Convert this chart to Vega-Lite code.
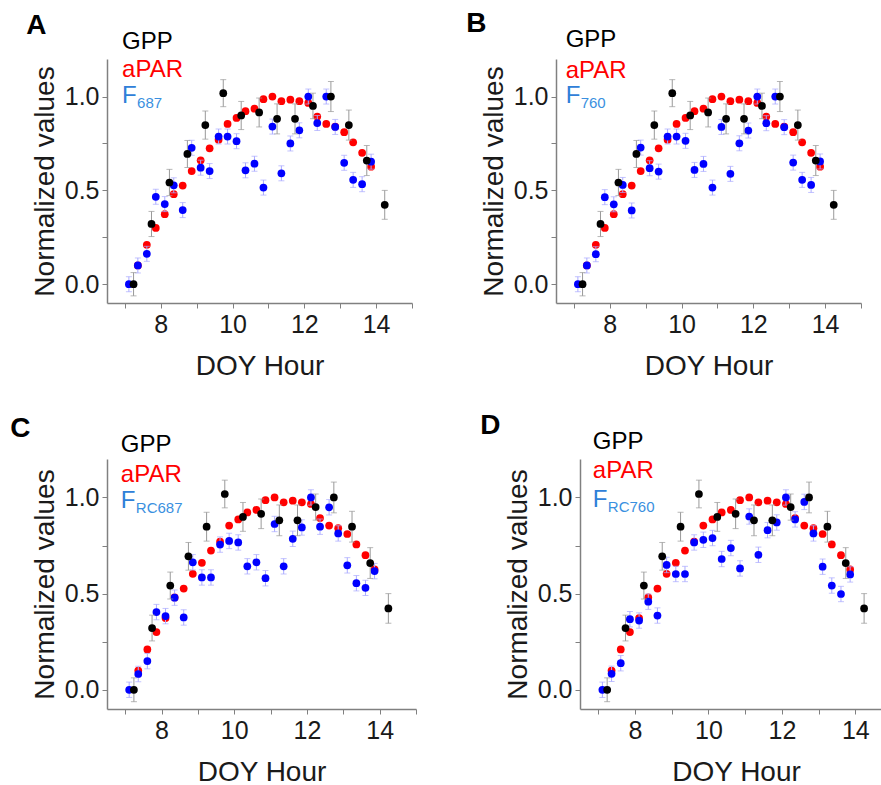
{
  "$schema": "https://vega.github.io/schema/vega-lite/v6.json",
  "background": "white",
  "padding": {"left": 10, "top": 10, "right": 0, "bottom": 0},
  "datasets": {
    "one": [{"k": 1}],
    "gpp": [
      {"t": 7.24, "v": 0, "e": 0.062}, {"t": 7.74, "v": 0.321, "e": 0.067}, {"t": 8.24, "v": 0.542, "e": 0.07},
      {"t": 8.74, "v": 0.694, "e": 0.072}, {"t": 9.24, "v": 0.848, "e": 0.075}, {"t": 9.74, "v": 1.018, "e": 0.072},
      {"t": 10.24, "v": 0.899, "e": 0.075}, {"t": 10.74, "v": 0.915, "e": 0.077}, {"t": 11.24, "v": 0.881, "e": 0.08},
      {"t": 11.74, "v": 0.881, "e": 0.08}, {"t": 12.24, "v": 0.95, "e": 0.068}, {"t": 12.74, "v": 1.0, "e": 0.08},
      {"t": 13.24, "v": 0.848, "e": 0.08}, {"t": 13.74, "v": 0.659, "e": 0.08}, {"t": 14.24, "v": 0.423, "e": 0.077}
    ],
    "apar": [
      {"t": 7.36, "v": 0.1}, {"t": 7.61, "v": 0.21}, {"t": 7.86, "v": 0.3}, {"t": 8.11, "v": 0.373},
      {"t": 8.36, "v": 0.48}, {"t": 8.61, "v": 0.526}, {"t": 8.86, "v": 0.603}, {"t": 9.11, "v": 0.66},
      {"t": 9.36, "v": 0.724}, {"t": 9.61, "v": 0.77}, {"t": 9.86, "v": 0.854}, {"t": 10.11, "v": 0.886},
      {"t": 10.36, "v": 0.922}, {"t": 10.61, "v": 0.935}, {"t": 10.86, "v": 0.986}, {"t": 11.11, "v": 1.0},
      {"t": 11.36, "v": 0.975}, {"t": 11.61, "v": 0.983}, {"t": 11.86, "v": 0.975}, {"t": 12.11, "v": 0.966},
      {"t": 12.36, "v": 0.893}, {"t": 12.61, "v": 0.854}, {"t": 12.86, "v": 0.84}, {"t": 13.11, "v": 0.81},
      {"t": 13.36, "v": 0.756}, {"t": 13.61, "v": 0.7}, {"t": 13.86, "v": 0.626}
    ],
    "fA": [
      {"t": 7.11, "v": 0, "e": 0.04}, {"t": 7.36, "v": 0.1, "e": 0.04}, {"t": 7.61, "v": 0.162, "e": 0.04}, {"t": 7.86, "v": 0.466, "e": 0.04},
      {"t": 8.11, "v": 0.427, "e": 0.04}, {"t": 8.36, "v": 0.527, "e": 0.04}, {"t": 8.61, "v": 0.395, "e": 0.04}, {"t": 8.86, "v": 0.727, "e": 0.04},
      {"t": 9.11, "v": 0.621, "e": 0.04}, {"t": 9.36, "v": 0.603, "e": 0.04}, {"t": 9.61, "v": 0.787, "e": 0.04}, {"t": 9.86, "v": 0.787, "e": 0.04},
      {"t": 10.11, "v": 0.762, "e": 0.04}, {"t": 10.36, "v": 0.607, "e": 0.04}, {"t": 10.61, "v": 0.642, "e": 0.04}, {"t": 10.86, "v": 0.515, "e": 0.04},
      {"t": 11.11, "v": 0.84, "e": 0.04}, {"t": 11.36, "v": 0.591, "e": 0.04}, {"t": 11.61, "v": 0.75, "e": 0.04}, {"t": 11.86, "v": 0.82, "e": 0.04},
      {"t": 12.11, "v": 1.0, "e": 0.04}, {"t": 12.36, "v": 0.859, "e": 0.04}, {"t": 12.61, "v": 1.0, "e": 0.04}, {"t": 12.86, "v": 0.838, "e": 0.04},
      {"t": 13.11, "v": 0.647, "e": 0.04}, {"t": 13.36, "v": 0.556, "e": 0.04}, {"t": 13.61, "v": 0.533, "e": 0.04}, {"t": 13.86, "v": 0.653, "e": 0.04}
    ],
    "fB": [
      {"t": 7.11, "v": 0, "e": 0.04}, {"t": 7.36, "v": 0.1, "e": 0.04}, {"t": 7.61, "v": 0.16, "e": 0.04}, {"t": 7.86, "v": 0.464, "e": 0.04},
      {"t": 8.11, "v": 0.426, "e": 0.04}, {"t": 8.36, "v": 0.529, "e": 0.04}, {"t": 8.61, "v": 0.393, "e": 0.04}, {"t": 8.86, "v": 0.728, "e": 0.04},
      {"t": 9.11, "v": 0.618, "e": 0.04}, {"t": 9.36, "v": 0.6, "e": 0.04}, {"t": 9.61, "v": 0.787, "e": 0.04}, {"t": 9.86, "v": 0.787, "e": 0.04},
      {"t": 10.11, "v": 0.764, "e": 0.04}, {"t": 10.36, "v": 0.609, "e": 0.04}, {"t": 10.61, "v": 0.641, "e": 0.04}, {"t": 10.86, "v": 0.515, "e": 0.04},
      {"t": 11.11, "v": 0.838, "e": 0.04}, {"t": 11.36, "v": 0.588, "e": 0.04}, {"t": 11.61, "v": 0.751, "e": 0.04}, {"t": 11.86, "v": 0.819, "e": 0.04},
      {"t": 12.11, "v": 1.0, "e": 0.04}, {"t": 12.36, "v": 0.858, "e": 0.04}, {"t": 12.61, "v": 1.0, "e": 0.04}, {"t": 12.86, "v": 0.837, "e": 0.04},
      {"t": 13.11, "v": 0.648, "e": 0.04}, {"t": 13.36, "v": 0.556, "e": 0.04}, {"t": 13.61, "v": 0.529, "e": 0.04}, {"t": 13.86, "v": 0.654, "e": 0.04}
    ],
    "fC": [
      {"t": 7.11, "v": 0, "e": 0.04}, {"t": 7.36, "v": 0.082, "e": 0.04}, {"t": 7.61, "v": 0.149, "e": 0.04}, {"t": 7.86, "v": 0.404, "e": 0.04},
      {"t": 8.11, "v": 0.383, "e": 0.04}, {"t": 8.36, "v": 0.479, "e": 0.04}, {"t": 8.61, "v": 0.376, "e": 0.04}, {"t": 8.86, "v": 0.663, "e": 0.04},
      {"t": 9.11, "v": 0.584, "e": 0.04}, {"t": 9.36, "v": 0.584, "e": 0.04}, {"t": 9.61, "v": 0.755, "e": 0.04}, {"t": 9.86, "v": 0.774, "e": 0.04},
      {"t": 10.11, "v": 0.766, "e": 0.04}, {"t": 10.36, "v": 0.642, "e": 0.04}, {"t": 10.61, "v": 0.663, "e": 0.04}, {"t": 10.86, "v": 0.58, "e": 0.04},
      {"t": 11.11, "v": 0.862, "e": 0.04}, {"t": 11.36, "v": 0.642, "e": 0.04}, {"t": 11.61, "v": 0.785, "e": 0.04}, {"t": 11.86, "v": 0.844, "e": 0.04},
      {"t": 12.11, "v": 1.0, "e": 0.04}, {"t": 12.36, "v": 0.848, "e": 0.04}, {"t": 12.61, "v": 0.949, "e": 0.04}, {"t": 12.86, "v": 0.813, "e": 0.04},
      {"t": 13.11, "v": 0.647, "e": 0.04}, {"t": 13.36, "v": 0.554, "e": 0.04}, {"t": 13.61, "v": 0.53, "e": 0.04}, {"t": 13.86, "v": 0.617, "e": 0.04}
    ],
    "fD": [
      {"t": 7.11, "v": 0, "e": 0.04}, {"t": 7.36, "v": 0.083, "e": 0.04}, {"t": 7.61, "v": 0.138, "e": 0.04}, {"t": 7.86, "v": 0.367, "e": 0.04},
      {"t": 8.11, "v": 0.36, "e": 0.04}, {"t": 8.36, "v": 0.458, "e": 0.04}, {"t": 8.61, "v": 0.386, "e": 0.04}, {"t": 8.86, "v": 0.649, "e": 0.04},
      {"t": 9.11, "v": 0.602, "e": 0.04}, {"t": 9.36, "v": 0.602, "e": 0.04}, {"t": 9.61, "v": 0.766, "e": 0.04}, {"t": 9.86, "v": 0.78, "e": 0.04},
      {"t": 10.11, "v": 0.789, "e": 0.04}, {"t": 10.36, "v": 0.68, "e": 0.04}, {"t": 10.61, "v": 0.737, "e": 0.04}, {"t": 10.86, "v": 0.631, "e": 0.04},
      {"t": 11.11, "v": 0.901, "e": 0.04}, {"t": 11.36, "v": 0.702, "e": 0.04}, {"t": 11.61, "v": 0.83, "e": 0.04}, {"t": 11.86, "v": 0.87, "e": 0.04},
      {"t": 12.11, "v": 1.0, "e": 0.04}, {"t": 12.36, "v": 0.886, "e": 0.04}, {"t": 12.61, "v": 0.977, "e": 0.04}, {"t": 12.86, "v": 0.813, "e": 0.04},
      {"t": 13.11, "v": 0.64, "e": 0.04}, {"t": 13.36, "v": 0.542, "e": 0.04}, {"t": 13.61, "v": 0.498, "e": 0.04}, {"t": 13.86, "v": 0.6, "e": 0.04}
    ]
  },
  "config": {
    "view": {"stroke": null},
    "font": "Liberation Sans",
    "axis": {
      "grid": false, "domainColor": "#808080", "domainWidth": 1.5, "tickColor": "#808080", "tickSize": 5, "tickWidth": 1,
      "labelFont": "Liberation Sans", "labelFontSize": 25, "labelColor": "#1a1a1a", "labelPadding": 3,
      "titleFont": "Liberation Sans", "titleFontSize": 28, "titleFontWeight": "normal", "titleColor": "#1a1a1a"
    },
    "axisY": {"titlePadding": 5},
    "axisX": {"titlePadding": 15, "labelPadding": 4},
    "title": {"font": "Liberation Sans", "fontSize": 28, "fontWeight": "bold", "color": "#000000", "anchor": "start", "offset": -10}
  },
  "spacing": 32,
  "vconcat": [
    {
      "spacing": 144,
      "bounds": "flush",
      "hconcat": [
        {
          "width": 305, "height": 244,
          "title": {"text": "A", "dx": -5},
          "layer": [
            {"data": {"name": "apar"}, "mark": {"type": "point", "filled": true, "size": 60, "color": "#ff0000", "opacity": 1},
             "encoding": {
               "x": {"field": "t", "type": "quantitative", "title": "DOY Hour", "scale": {"domain": [6.5, 15], "nice": false, "zero": false},
                     "axis": {"values": [7, 8, 9, 10, 11, 12, 13, 14, 15], "format": "d", "labelExpr": "datum.value % 2 == 0 ? datum.label : ''"}},
               "y": {"field": "v", "type": "quantitative", "title": "Normalized values", "scale": {"domain": [-0.1, 1.2], "nice": false, "zero": false},
                     "axis": {"values": [0, 0.25, 0.5, 0.75, 1], "format": ".1f", "labelExpr": "datum.value == 0.25 || datum.value == 0.75 ? '' : datum.label"}}}},
            {"data": {"name": "fA"}, "mark": {"type": "errorbar", "color": "#aaaaff", "thickness": 1, "ticks": {"size": 6}},
             "encoding": {
               "x": {"field": "t", "type": "quantitative", "title": "DOY Hour", "axis": {"values": [7, 8, 9, 10, 11, 12, 13, 14, 15], "format": "d", "labelExpr": "datum.value % 2 == 0 ? datum.label : ''"}},
               "y": {"field": "v", "type": "quantitative", "title": "Normalized values", "axis": {"values": [0, 0.25, 0.5, 0.75, 1], "format": ".1f", "labelExpr": "datum.value == 0.25 || datum.value == 0.75 ? '' : datum.label"}},
               "yError": {"field": "e"}}},
            {"data": {"name": "fA"}, "mark": {"type": "point", "filled": true, "size": 60, "color": "#0000ff", "opacity": 1},
             "encoding": {
               "x": {"field": "t", "type": "quantitative", "title": "DOY Hour", "axis": {"values": [7, 8, 9, 10, 11, 12, 13, 14, 15], "format": "d", "labelExpr": "datum.value % 2 == 0 ? datum.label : ''"}},
               "y": {"field": "v", "type": "quantitative", "title": "Normalized values", "axis": {"values": [0, 0.25, 0.5, 0.75, 1], "format": ".1f", "labelExpr": "datum.value == 0.25 || datum.value == 0.75 ? '' : datum.label"}}}},
            {"data": {"name": "gpp"}, "mark": {"type": "errorbar", "color": "#999999", "thickness": 1, "ticks": {"size": 6}},
             "encoding": {
               "x": {"field": "t", "type": "quantitative", "title": "DOY Hour", "axis": {"values": [7, 8, 9, 10, 11, 12, 13, 14, 15], "format": "d", "labelExpr": "datum.value % 2 == 0 ? datum.label : ''"}},
               "y": {"field": "v", "type": "quantitative", "title": "Normalized values", "axis": {"values": [0, 0.25, 0.5, 0.75, 1], "format": ".1f", "labelExpr": "datum.value == 0.25 || datum.value == 0.75 ? '' : datum.label"}},
               "yError": {"field": "e"}}},
            {"data": {"name": "gpp"}, "mark": {"type": "point", "filled": true, "size": 60, "color": "#000000", "opacity": 1},
             "encoding": {
               "x": {"field": "t", "type": "quantitative", "title": "DOY Hour", "axis": {"values": [7, 8, 9, 10, 11, 12, 13, 14, 15], "format": "d", "labelExpr": "datum.value % 2 == 0 ? datum.label : ''"}},
               "y": {"field": "v", "type": "quantitative", "title": "Normalized values", "axis": {"values": [0, 0.25, 0.5, 0.75, 1], "format": ".1f", "labelExpr": "datum.value == 0.25 || datum.value == 0.75 ? '' : datum.label"}}}},
            {"data": {"name": "one"}, "mark": {"type": "text", "align": "left", "baseline": "alphabetic", "fontSize": 24, "color": "#000000", "text": "GPP"},
             "encoding": {
               "x": {"datum": 6.92, "type": "quantitative", "title": "DOY Hour", "axis": {"values": [7, 8, 9, 10, 11, 12, 13, 14, 15], "format": "d", "labelExpr": "datum.value % 2 == 0 ? datum.label : ''"}},
               "y": {"datum": 1.254, "type": "quantitative", "title": "Normalized values", "axis": {"values": [0, 0.25, 0.5, 0.75, 1], "format": ".1f", "labelExpr": "datum.value == 0.25 || datum.value == 0.75 ? '' : datum.label"}}}},
            {"data": {"name": "one"}, "mark": {"type": "text", "align": "left", "baseline": "alphabetic", "fontSize": 24, "color": "#ff0000", "text": "aPAR"},
             "encoding": {
               "x": {"datum": 6.92, "type": "quantitative", "title": "DOY Hour", "axis": {"values": [7, 8, 9, 10, 11, 12, 13, 14, 15], "format": "d", "labelExpr": "datum.value % 2 == 0 ? datum.label : ''"}},
               "y": {"datum": 1.106, "type": "quantitative", "title": "Normalized values", "axis": {"values": [0, 0.25, 0.5, 0.75, 1], "format": ".1f", "labelExpr": "datum.value == 0.25 || datum.value == 0.75 ? '' : datum.label"}}}},
            {"data": {"name": "one"}, "mark": {"type": "text", "align": "left", "baseline": "alphabetic", "fontSize": 24, "color": "#2f80d8", "text": "F"},
             "encoding": {
               "x": {"datum": 6.92, "type": "quantitative", "title": "DOY Hour", "axis": {"values": [7, 8, 9, 10, 11, 12, 13, 14, 15], "format": "d", "labelExpr": "datum.value % 2 == 0 ? datum.label : ''"}},
               "y": {"datum": 0.963, "type": "quantitative", "title": "Normalized values", "axis": {"values": [0, 0.25, 0.5, 0.75, 1], "format": ".1f", "labelExpr": "datum.value == 0.25 || datum.value == 0.75 ? '' : datum.label"}}}},
            {"data": {"name": "one"}, "mark": {"type": "text", "align": "left", "baseline": "alphabetic", "fontSize": 15, "color": "#3a90e0", "dx": 15, "dy": 5, "text": "687"},
             "encoding": {
               "x": {"datum": 6.92, "type": "quantitative", "title": "DOY Hour", "axis": {"values": [7, 8, 9, 10, 11, 12, 13, 14, 15], "format": "d", "labelExpr": "datum.value % 2 == 0 ? datum.label : ''"}},
               "y": {"datum": 0.963, "type": "quantitative", "title": "Normalized values", "axis": {"values": [0, 0.25, 0.5, 0.75, 1], "format": ".1f", "labelExpr": "datum.value == 0.25 || datum.value == 0.75 ? '' : datum.label"}}}}
          ]
        },
        {
          "width": 305, "height": 244,
          "title": {"text": "B", "dx": -14},
          "layer": [
            {"data": {"name": "apar"}, "mark": {"type": "point", "filled": true, "size": 60, "color": "#ff0000", "opacity": 1},
             "encoding": {
               "x": {"field": "t", "type": "quantitative", "title": "DOY Hour", "scale": {"domain": [6.5, 15], "nice": false, "zero": false},
                     "axis": {"values": [7, 8, 9, 10, 11, 12, 13, 14, 15], "format": "d", "labelExpr": "datum.value % 2 == 0 ? datum.label : ''"}},
               "y": {"field": "v", "type": "quantitative", "title": "Normalized values", "scale": {"domain": [-0.1, 1.2], "nice": false, "zero": false},
                     "axis": {"values": [0, 0.25, 0.5, 0.75, 1], "format": ".1f", "labelExpr": "datum.value == 0.25 || datum.value == 0.75 ? '' : datum.label"}}}},
            {"data": {"name": "fB"}, "mark": {"type": "errorbar", "color": "#aaaaff", "thickness": 1, "ticks": {"size": 6}},
             "encoding": {
               "x": {"field": "t", "type": "quantitative", "title": "DOY Hour", "axis": {"values": [7, 8, 9, 10, 11, 12, 13, 14, 15], "format": "d", "labelExpr": "datum.value % 2 == 0 ? datum.label : ''"}},
               "y": {"field": "v", "type": "quantitative", "title": "Normalized values", "axis": {"values": [0, 0.25, 0.5, 0.75, 1], "format": ".1f", "labelExpr": "datum.value == 0.25 || datum.value == 0.75 ? '' : datum.label"}},
               "yError": {"field": "e"}}},
            {"data": {"name": "fB"}, "mark": {"type": "point", "filled": true, "size": 60, "color": "#0000ff", "opacity": 1},
             "encoding": {
               "x": {"field": "t", "type": "quantitative", "title": "DOY Hour", "axis": {"values": [7, 8, 9, 10, 11, 12, 13, 14, 15], "format": "d", "labelExpr": "datum.value % 2 == 0 ? datum.label : ''"}},
               "y": {"field": "v", "type": "quantitative", "title": "Normalized values", "axis": {"values": [0, 0.25, 0.5, 0.75, 1], "format": ".1f", "labelExpr": "datum.value == 0.25 || datum.value == 0.75 ? '' : datum.label"}}}},
            {"data": {"name": "gpp"}, "mark": {"type": "errorbar", "color": "#999999", "thickness": 1, "ticks": {"size": 6}},
             "encoding": {
               "x": {"field": "t", "type": "quantitative", "title": "DOY Hour", "axis": {"values": [7, 8, 9, 10, 11, 12, 13, 14, 15], "format": "d", "labelExpr": "datum.value % 2 == 0 ? datum.label : ''"}},
               "y": {"field": "v", "type": "quantitative", "title": "Normalized values", "axis": {"values": [0, 0.25, 0.5, 0.75, 1], "format": ".1f", "labelExpr": "datum.value == 0.25 || datum.value == 0.75 ? '' : datum.label"}},
               "yError": {"field": "e"}}},
            {"data": {"name": "gpp"}, "mark": {"type": "point", "filled": true, "size": 60, "color": "#000000", "opacity": 1},
             "encoding": {
               "x": {"field": "t", "type": "quantitative", "title": "DOY Hour", "axis": {"values": [7, 8, 9, 10, 11, 12, 13, 14, 15], "format": "d", "labelExpr": "datum.value % 2 == 0 ? datum.label : ''"}},
               "y": {"field": "v", "type": "quantitative", "title": "Normalized values", "axis": {"values": [0, 0.25, 0.5, 0.75, 1], "format": ".1f", "labelExpr": "datum.value == 0.25 || datum.value == 0.75 ? '' : datum.label"}}}},
            {"data": {"name": "one"}, "mark": {"type": "text", "align": "left", "baseline": "alphabetic", "fontSize": 24, "color": "#000000", "text": "GPP"},
             "encoding": {
               "x": {"datum": 6.77, "type": "quantitative", "title": "DOY Hour", "axis": {"values": [7, 8, 9, 10, 11, 12, 13, 14, 15], "format": "d", "labelExpr": "datum.value % 2 == 0 ? datum.label : ''"}},
               "y": {"datum": 1.262, "type": "quantitative", "title": "Normalized values", "axis": {"values": [0, 0.25, 0.5, 0.75, 1], "format": ".1f", "labelExpr": "datum.value == 0.25 || datum.value == 0.75 ? '' : datum.label"}}}},
            {"data": {"name": "one"}, "mark": {"type": "text", "align": "left", "baseline": "alphabetic", "fontSize": 24, "color": "#ff0000", "text": "aPAR"},
             "encoding": {
               "x": {"datum": 6.77, "type": "quantitative", "title": "DOY Hour", "axis": {"values": [7, 8, 9, 10, 11, 12, 13, 14, 15], "format": "d", "labelExpr": "datum.value % 2 == 0 ? datum.label : ''"}},
               "y": {"datum": 1.1, "type": "quantitative", "title": "Normalized values", "axis": {"values": [0, 0.25, 0.5, 0.75, 1], "format": ".1f", "labelExpr": "datum.value == 0.25 || datum.value == 0.75 ? '' : datum.label"}}}},
            {"data": {"name": "one"}, "mark": {"type": "text", "align": "left", "baseline": "alphabetic", "fontSize": 24, "color": "#2f80d8", "text": "F"},
             "encoding": {
               "x": {"datum": 6.77, "type": "quantitative", "title": "DOY Hour", "axis": {"values": [7, 8, 9, 10, 11, 12, 13, 14, 15], "format": "d", "labelExpr": "datum.value % 2 == 0 ? datum.label : ''"}},
               "y": {"datum": 0.963, "type": "quantitative", "title": "Normalized values", "axis": {"values": [0, 0.25, 0.5, 0.75, 1], "format": ".1f", "labelExpr": "datum.value == 0.25 || datum.value == 0.75 ? '' : datum.label"}}}},
            {"data": {"name": "one"}, "mark": {"type": "text", "align": "left", "baseline": "alphabetic", "fontSize": 15, "color": "#3a90e0", "dx": 15, "dy": 5, "text": "760"},
             "encoding": {
               "x": {"datum": 6.77, "type": "quantitative", "title": "DOY Hour", "axis": {"values": [7, 8, 9, 10, 11, 12, 13, 14, 15], "format": "d", "labelExpr": "datum.value % 2 == 0 ? datum.label : ''"}},
               "y": {"datum": 0.963, "type": "quantitative", "title": "Normalized values", "axis": {"values": [0, 0.25, 0.5, 0.75, 1], "format": ".1f", "labelExpr": "datum.value == 0.25 || datum.value == 0.75 ? '' : datum.label"}}}}
          ]
        }
      ]
    },
    {
      "spacing": 164,
      "bounds": "flush",
      "hconcat": [
        {
          "width": 309, "height": 250,
          "title": {"text": "C", "dx": -21},
          "layer": [
            {"data": {"name": "apar"}, "mark": {"type": "point", "filled": true, "size": 60, "color": "#ff0000", "opacity": 1},
             "encoding": {
               "x": {"field": "t", "type": "quantitative", "title": "DOY Hour", "scale": {"domain": [6.5, 15], "nice": false, "zero": false},
                     "axis": {"values": [7, 8, 9, 10, 11, 12, 13, 14, 15], "format": "d", "labelExpr": "datum.value % 2 == 0 ? datum.label : ''"}},
               "y": {"field": "v", "type": "quantitative", "title": "Normalized values", "scale": {"domain": [-0.1, 1.2], "nice": false, "zero": false},
                     "axis": {"values": [0, 0.25, 0.5, 0.75, 1], "format": ".1f", "labelExpr": "datum.value == 0.25 || datum.value == 0.75 ? '' : datum.label"}}}},
            {"data": {"name": "fC"}, "mark": {"type": "errorbar", "color": "#aaaaff", "thickness": 1, "ticks": {"size": 6}},
             "encoding": {
               "x": {"field": "t", "type": "quantitative", "title": "DOY Hour", "axis": {"values": [7, 8, 9, 10, 11, 12, 13, 14, 15], "format": "d", "labelExpr": "datum.value % 2 == 0 ? datum.label : ''"}},
               "y": {"field": "v", "type": "quantitative", "title": "Normalized values", "axis": {"values": [0, 0.25, 0.5, 0.75, 1], "format": ".1f", "labelExpr": "datum.value == 0.25 || datum.value == 0.75 ? '' : datum.label"}},
               "yError": {"field": "e"}}},
            {"data": {"name": "fC"}, "mark": {"type": "point", "filled": true, "size": 60, "color": "#0000ff", "opacity": 1},
             "encoding": {
               "x": {"field": "t", "type": "quantitative", "title": "DOY Hour", "axis": {"values": [7, 8, 9, 10, 11, 12, 13, 14, 15], "format": "d", "labelExpr": "datum.value % 2 == 0 ? datum.label : ''"}},
               "y": {"field": "v", "type": "quantitative", "title": "Normalized values", "axis": {"values": [0, 0.25, 0.5, 0.75, 1], "format": ".1f", "labelExpr": "datum.value == 0.25 || datum.value == 0.75 ? '' : datum.label"}}}},
            {"data": {"name": "gpp"}, "mark": {"type": "errorbar", "color": "#999999", "thickness": 1, "ticks": {"size": 6}},
             "encoding": {
               "x": {"field": "t", "type": "quantitative", "title": "DOY Hour", "axis": {"values": [7, 8, 9, 10, 11, 12, 13, 14, 15], "format": "d", "labelExpr": "datum.value % 2 == 0 ? datum.label : ''"}},
               "y": {"field": "v", "type": "quantitative", "title": "Normalized values", "axis": {"values": [0, 0.25, 0.5, 0.75, 1], "format": ".1f", "labelExpr": "datum.value == 0.25 || datum.value == 0.75 ? '' : datum.label"}},
               "yError": {"field": "e"}}},
            {"data": {"name": "gpp"}, "mark": {"type": "point", "filled": true, "size": 60, "color": "#000000", "opacity": 1},
             "encoding": {
               "x": {"field": "t", "type": "quantitative", "title": "DOY Hour", "axis": {"values": [7, 8, 9, 10, 11, 12, 13, 14, 15], "format": "d", "labelExpr": "datum.value % 2 == 0 ? datum.label : ''"}},
               "y": {"field": "v", "type": "quantitative", "title": "Normalized values", "axis": {"values": [0, 0.25, 0.5, 0.75, 1], "format": ".1f", "labelExpr": "datum.value == 0.25 || datum.value == 0.75 ? '' : datum.label"}}}},
            {"data": {"name": "one"}, "mark": {"type": "text", "align": "left", "baseline": "alphabetic", "fontSize": 24, "color": "#000000", "text": "GPP"},
             "encoding": {
               "x": {"datum": 6.88, "type": "quantitative", "title": "DOY Hour", "axis": {"values": [7, 8, 9, 10, 11, 12, 13, 14, 15], "format": "d", "labelExpr": "datum.value % 2 == 0 ? datum.label : ''"}},
               "y": {"datum": 1.234, "type": "quantitative", "title": "Normalized values", "axis": {"values": [0, 0.25, 0.5, 0.75, 1], "format": ".1f", "labelExpr": "datum.value == 0.25 || datum.value == 0.75 ? '' : datum.label"}}}},
            {"data": {"name": "one"}, "mark": {"type": "text", "align": "left", "baseline": "alphabetic", "fontSize": 24, "color": "#ff0000", "text": "aPAR"},
             "encoding": {
               "x": {"datum": 6.88, "type": "quantitative", "title": "DOY Hour", "axis": {"values": [7, 8, 9, 10, 11, 12, 13, 14, 15], "format": "d", "labelExpr": "datum.value % 2 == 0 ? datum.label : ''"}},
               "y": {"datum": 1.08, "type": "quantitative", "title": "Normalized values", "axis": {"values": [0, 0.25, 0.5, 0.75, 1], "format": ".1f", "labelExpr": "datum.value == 0.25 || datum.value == 0.75 ? '' : datum.label"}}}},
            {"data": {"name": "one"}, "mark": {"type": "text", "align": "left", "baseline": "alphabetic", "fontSize": 24, "color": "#2f80d8", "text": "F"},
             "encoding": {
               "x": {"datum": 6.88, "type": "quantitative", "title": "DOY Hour", "axis": {"values": [7, 8, 9, 10, 11, 12, 13, 14, 15], "format": "d", "labelExpr": "datum.value % 2 == 0 ? datum.label : ''"}},
               "y": {"datum": 0.946, "type": "quantitative", "title": "Normalized values", "axis": {"values": [0, 0.25, 0.5, 0.75, 1], "format": ".1f", "labelExpr": "datum.value == 0.25 || datum.value == 0.75 ? '' : datum.label"}}}},
            {"data": {"name": "one"}, "mark": {"type": "text", "align": "left", "baseline": "alphabetic", "fontSize": 15, "color": "#3a90e0", "dx": 15, "dy": 5, "text": "RC687"},
             "encoding": {
               "x": {"datum": 6.88, "type": "quantitative", "title": "DOY Hour", "axis": {"values": [7, 8, 9, 10, 11, 12, 13, 14, 15], "format": "d", "labelExpr": "datum.value % 2 == 0 ? datum.label : ''"}},
               "y": {"datum": 0.946, "type": "quantitative", "title": "Normalized values", "axis": {"values": [0, 0.25, 0.5, 0.75, 1], "format": ".1f", "labelExpr": "datum.value == 0.25 || datum.value == 0.75 ? '' : datum.label"}}}}
          ]
        },
        {
          "width": 312, "height": 250,
          "title": {"text": "D", "dx": -24},
          "layer": [
            {"data": {"name": "apar"}, "mark": {"type": "point", "filled": true, "size": 60, "color": "#ff0000", "opacity": 1},
             "encoding": {
               "x": {"field": "t", "type": "quantitative", "title": "DOY Hour", "scale": {"domain": [6.5, 15], "nice": false, "zero": false},
                     "axis": {"values": [7, 8, 9, 10, 11, 12, 13, 14, 15], "format": "d", "labelExpr": "datum.value % 2 == 0 ? datum.label : ''"}},
               "y": {"field": "v", "type": "quantitative", "title": "Normalized values", "scale": {"domain": [-0.1, 1.2], "nice": false, "zero": false},
                     "axis": {"values": [0, 0.25, 0.5, 0.75, 1], "format": ".1f", "labelExpr": "datum.value == 0.25 || datum.value == 0.75 ? '' : datum.label"}}}},
            {"data": {"name": "fD"}, "mark": {"type": "errorbar", "color": "#aaaaff", "thickness": 1, "ticks": {"size": 6}},
             "encoding": {
               "x": {"field": "t", "type": "quantitative", "title": "DOY Hour", "axis": {"values": [7, 8, 9, 10, 11, 12, 13, 14, 15], "format": "d", "labelExpr": "datum.value % 2 == 0 ? datum.label : ''"}},
               "y": {"field": "v", "type": "quantitative", "title": "Normalized values", "axis": {"values": [0, 0.25, 0.5, 0.75, 1], "format": ".1f", "labelExpr": "datum.value == 0.25 || datum.value == 0.75 ? '' : datum.label"}},
               "yError": {"field": "e"}}},
            {"data": {"name": "fD"}, "mark": {"type": "point", "filled": true, "size": 60, "color": "#0000ff", "opacity": 1},
             "encoding": {
               "x": {"field": "t", "type": "quantitative", "title": "DOY Hour", "axis": {"values": [7, 8, 9, 10, 11, 12, 13, 14, 15], "format": "d", "labelExpr": "datum.value % 2 == 0 ? datum.label : ''"}},
               "y": {"field": "v", "type": "quantitative", "title": "Normalized values", "axis": {"values": [0, 0.25, 0.5, 0.75, 1], "format": ".1f", "labelExpr": "datum.value == 0.25 || datum.value == 0.75 ? '' : datum.label"}}}},
            {"data": {"name": "gpp"}, "mark": {"type": "errorbar", "color": "#999999", "thickness": 1, "ticks": {"size": 6}},
             "encoding": {
               "x": {"field": "t", "type": "quantitative", "title": "DOY Hour", "axis": {"values": [7, 8, 9, 10, 11, 12, 13, 14, 15], "format": "d", "labelExpr": "datum.value % 2 == 0 ? datum.label : ''"}},
               "y": {"field": "v", "type": "quantitative", "title": "Normalized values", "axis": {"values": [0, 0.25, 0.5, 0.75, 1], "format": ".1f", "labelExpr": "datum.value == 0.25 || datum.value == 0.75 ? '' : datum.label"}},
               "yError": {"field": "e"}}},
            {"data": {"name": "gpp"}, "mark": {"type": "point", "filled": true, "size": 60, "color": "#000000", "opacity": 1},
             "encoding": {
               "x": {"field": "t", "type": "quantitative", "title": "DOY Hour", "axis": {"values": [7, 8, 9, 10, 11, 12, 13, 14, 15], "format": "d", "labelExpr": "datum.value % 2 == 0 ? datum.label : ''"}},
               "y": {"field": "v", "type": "quantitative", "title": "Normalized values", "axis": {"values": [0, 0.25, 0.5, 0.75, 1], "format": ".1f", "labelExpr": "datum.value == 0.25 || datum.value == 0.75 ? '' : datum.label"}}}},
            {"data": {"name": "one"}, "mark": {"type": "text", "align": "left", "baseline": "alphabetic", "fontSize": 24, "color": "#000000", "text": "GPP"},
             "encoding": {
               "x": {"datum": 6.85, "type": "quantitative", "title": "DOY Hour", "axis": {"values": [7, 8, 9, 10, 11, 12, 13, 14, 15], "format": "d", "labelExpr": "datum.value % 2 == 0 ? datum.label : ''"}},
               "y": {"datum": 1.25, "type": "quantitative", "title": "Normalized values", "axis": {"values": [0, 0.25, 0.5, 0.75, 1], "format": ".1f", "labelExpr": "datum.value == 0.25 || datum.value == 0.75 ? '' : datum.label"}}}},
            {"data": {"name": "one"}, "mark": {"type": "text", "align": "left", "baseline": "alphabetic", "fontSize": 24, "color": "#ff0000", "text": "aPAR"},
             "encoding": {
               "x": {"datum": 6.85, "type": "quantitative", "title": "DOY Hour", "axis": {"values": [7, 8, 9, 10, 11, 12, 13, 14, 15], "format": "d", "labelExpr": "datum.value % 2 == 0 ? datum.label : ''"}},
               "y": {"datum": 1.1, "type": "quantitative", "title": "Normalized values", "axis": {"values": [0, 0.25, 0.5, 0.75, 1], "format": ".1f", "labelExpr": "datum.value == 0.25 || datum.value == 0.75 ? '' : datum.label"}}}},
            {"data": {"name": "one"}, "mark": {"type": "text", "align": "left", "baseline": "alphabetic", "fontSize": 24, "color": "#2f80d8", "text": "F"},
             "encoding": {
               "x": {"datum": 6.85, "type": "quantitative", "title": "DOY Hour", "axis": {"values": [7, 8, 9, 10, 11, 12, 13, 14, 15], "format": "d", "labelExpr": "datum.value % 2 == 0 ? datum.label : ''"}},
               "y": {"datum": 0.953, "type": "quantitative", "title": "Normalized values", "axis": {"values": [0, 0.25, 0.5, 0.75, 1], "format": ".1f", "labelExpr": "datum.value == 0.25 || datum.value == 0.75 ? '' : datum.label"}}}},
            {"data": {"name": "one"}, "mark": {"type": "text", "align": "left", "baseline": "alphabetic", "fontSize": 15, "color": "#3a90e0", "dx": 15, "dy": 5, "text": "RC760"},
             "encoding": {
               "x": {"datum": 6.85, "type": "quantitative", "title": "DOY Hour", "axis": {"values": [7, 8, 9, 10, 11, 12, 13, 14, 15], "format": "d", "labelExpr": "datum.value % 2 == 0 ? datum.label : ''"}},
               "y": {"datum": 0.953, "type": "quantitative", "title": "Normalized values", "axis": {"values": [0, 0.25, 0.5, 0.75, 1], "format": ".1f", "labelExpr": "datum.value == 0.25 || datum.value == 0.75 ? '' : datum.label"}}}}
          ]
        }
      ]
    }
  ]
}
